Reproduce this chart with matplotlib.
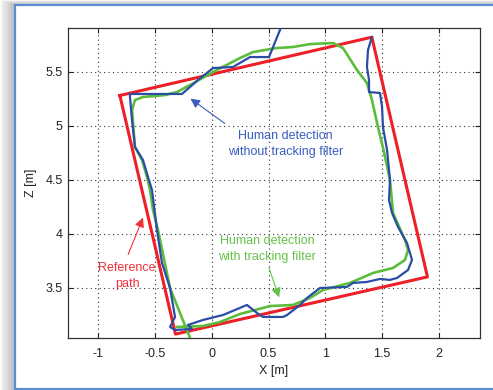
import matplotlib.pyplot as plt
from matplotlib.patches import Rectangle

# reference path (red)
ref_x = [-0.81, 1.41, 1.90, -0.32, -0.81]
ref_z = [5.28, 5.82, 3.60, 3.07, 5.28]

# human detection without tracking filter (blue)
raw_x = [0.654, 0.504, 0.337, 0.187, 0.011, -0.122, -0.263, -0.721, -0.721, -0.703,
         -0.677, -0.606, -0.562, -0.527, -0.483, -0.439, -0.368, -0.324, -0.368, -0.324,
         -0.174, -0.210, -0.078, 0.099, 0.310, 0.398, 0.451, 0.628, 0.663, 0.777,
         0.839, 0.953, 1.191, 1.244, 1.367, 1.482, 1.570, 1.632, 1.729, 1.764,
         1.720, 1.641, 1.588, 1.561, 1.570, 1.544, 1.508, 1.500, 1.482, 1.385,
         1.385, 1.367, 1.376, 1.411]
raw_z = [6.025, 5.636, 5.636, 5.544, 5.534, 5.423, 5.294, 5.294, 5.266, 5.053,
         4.803, 4.682, 4.525, 4.405, 4.034, 3.729, 3.497, 3.229, 3.136, 3.108,
         3.118, 3.155, 3.201, 3.247, 3.340, 3.266, 3.229, 3.229, 3.247, 3.340,
         3.405, 3.497, 3.507, 3.544, 3.553, 3.581, 3.572, 3.590, 3.664, 3.757,
         3.914, 4.062, 4.192, 4.312, 4.497, 4.775, 4.988, 5.173, 5.303, 5.312,
         5.423, 5.544, 5.701, 5.821]

# human detection with tracking filter (green)
filt_x = [-0.307, -0.078, 0.072, 0.248, 0.513, 0.715, 0.865, 0.980, 1.218, 1.420,
          1.597, 1.702, 1.729, 1.702, 1.597, 1.570, 1.517, 1.464, 1.411, 1.367,
          1.279, 1.156, 1.068, 0.865, 0.715, 0.566, 0.363, 0.248, 0.011, -0.192,
          -0.307, -0.412, -0.606, -0.677, -0.703, -0.677, -0.615, -0.571, -0.544, -0.518,
          -0.474, -0.368, -0.192]
filt_z = [3.136, 3.145, 3.182, 3.256, 3.330, 3.340, 3.405, 3.479, 3.544, 3.636,
          3.683, 3.757, 3.849, 3.942, 4.192, 4.497, 4.757, 4.988, 5.238, 5.395,
          5.516, 5.719, 5.766, 5.756, 5.729, 5.719, 5.682, 5.627, 5.497, 5.377,
          5.312, 5.284, 5.266, 5.238, 5.145, 4.803, 4.682, 4.525, 4.405, 4.219,
          4.034, 3.497, 3.034]

xticks = [-1, -0.5, 0, 0.5, 1, 1.5, 2]
xticklabels = ['-1', '-0.5', '0', '0.5', '1', '1.5', '2']
yticks = [3.5, 4, 4.5, 5, 5.5]
yticklabels = ['3.5', '4', '4.5', '5', '5.5']

red = '#ee1f26'
blue = '#2a4ea6'
green = '#5cbd3c'

plt.rcParams['font.family'] = ['Liberation Sans', 'DejaVu Sans']

fig = plt.figure(figsize=(4.93, 3.90), dpi=100)
W, H = 493.0, 390.0

# window shadow + frame
for k in range(8, 0, -1):
    fig.patches.append(Rectangle(((15 - 1.8 * k) / W, 0), 2, 1 - (5 - 0.6 * k) / H,
                                 transform=fig.transFigure, facecolor='#808080',
                                 edgecolor='none', alpha=0.08, zorder=0))
fig.patches.append(Rectangle((15 / W, 1 / H), 2, 1 - 6 / H, transform=fig.transFigure,
                             facecolor='white', edgecolor='#5b8ed0', linewidth=1.6, zorder=1))

ax = fig.add_axes([68 / W, 1 - 338 / H, (480 - 68) / W, (338 - 28) / H])
ax.set_zorder(2)

ax.plot(ref_x, ref_z, color=red, lw=2.2, zorder=3)
ax.plot(filt_x, filt_z, color=green, lw=1.9, zorder=4)
ax.plot(raw_x, raw_z, color=blue, lw=1.6, zorder=5)

ax.set_xlim(-1.267, 2.363)
ax.set_ylim(3.034, 5.905)
ax.set_xticks(xticks)
ax.set_xticklabels(xticklabels)
ax.set_yticks(yticks)
ax.set_yticklabels(yticklabels)
ax.tick_params(direction='in', top=True, right=True, length=3.5, width=0.8,
               labelsize=9, colors='#222222')
ax.tick_params(axis='x', pad=7)
ax.tick_params(axis='y', pad=4)
ax.grid(True, linestyle=(0, (1, 3)), color='#333333', linewidth=0.8)
for s in ax.spines.values():
    s.set_color('#333333')
    s.set_linewidth(0.9)

ax.set_xlabel('X [m]', fontsize=9, color='#222222', labelpad=4)
ax.set_ylabel('Z [m]', fontsize=9, color='#222222', labelpad=6)

# annotations
ax.text(0.647, 4.831, 'Human detection\nwithout tracking filter', color='#3a5cc0',
        fontsize=9, ha='center', va='center', linespacing=1.45, zorder=6)
ax.annotate('', xy=(-0.208, 5.266), xytext=(0.134, 5.006),
            arrowprops=dict(arrowstyle='-|>', color='#3a5cc0', lw=0.8,
                            mutation_scale=14), zorder=6)

ax.text(0.487, 3.858, 'Human detection\nwith tracking filter', color='#66c24a',
        fontsize=9, ha='center', va='center', linespacing=1.45, zorder=6)
ax.annotate('', xy=(0.601, 3.386), xytext=(0.495, 3.710),
            arrowprops=dict(arrowstyle='-|>', color='#66c24a', lw=0.8,
                            mutation_scale=14), zorder=6)

ax.text(-0.746, 3.608, 'Reference\npath', color='#f0303a',
        fontsize=9, ha='center', va='center', linespacing=1.45, zorder=6)
ax.annotate('', xy=(-0.597, 4.173), xytext=(-0.746, 3.784),
            arrowprops=dict(arrowstyle='-|>', color='#f0303a', lw=0.8,
                            mutation_scale=14), zorder=6)

fig.savefig('out.png', dpi=100)
